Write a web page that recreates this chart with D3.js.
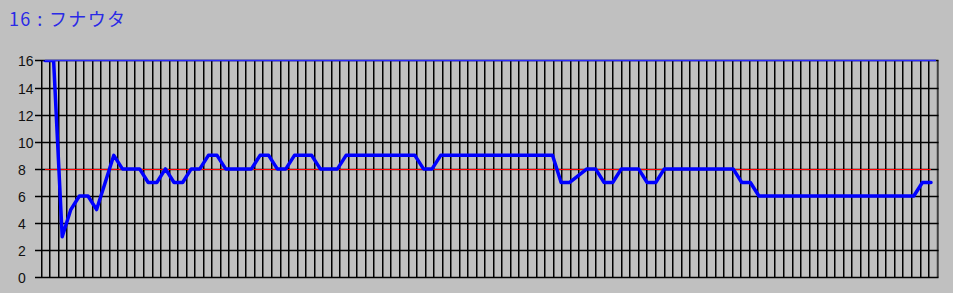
<!DOCTYPE html>
<html><head><meta charset="utf-8">
<script src="https://cdn.jsdelivr.net/npm/d3@7"></script>
<style>html,body{margin:0;padding:0;background:#c0c0c0;overflow:hidden}</style>
</head><body><svg id="c" width="953" height="293"></svg>
<script>
// ---- data ----
const title = "16 : フナウタ";
const yTicks = [0, 2, 4, 6, 8, 10, 12, 14, 16];
const yMax = 16;
const gridCells = 105;
const refLevel = 8;
const values = [
  16, 16, 3, 5, 6, 6, 5, 7, 9, 8,
  8, 8, 7, 7, 8, 7, 7, 8, 8, 9,
  9, 8, 8, 8, 8, 9, 9, 8, 8, 9,
  9, 9, 8, 8, 8, 9, 9, 9, 9, 9,
  9, 9, 9, 9, 8, 8, 9, 9, 9, 9,
  9, 9, 9, 9, 9, 9, 9, 9, 9, 9,
  7, 7, 7.5, 8, 8, 7, 7, 8, 8, 8,
  7, 7, 8, 8, 8, 8, 8, 8, 8, 8,
  8, 7, 7, 6, 6, 6, 6, 6, 6, 6,
  6, 6, 6, 6, 6, 6, 6, 6, 6, 6,
  6, 6, 7, 7
];

// ---- chart ----
const svg = d3.select("#c");
const y = d3.scaleLinear().domain([0, yMax]).range([277.4, 60.4]);
const gx = d3.scaleLinear().domain([0, gridCells]).range([40.6, 936.6]);
const x = d3.scaleLinear().domain([0, values.length - 1]).range([45, 931]);
const ry = v => Math.round(y(v)) + 0.5;

svg.append("defs").append("clipPath").attr("id", "plotclip")
  .append("rect")
  .attr("x", 30).attr("y", ry(yMax))
  .attr("width", 920).attr("height", ry(0) - ry(yMax) + 5);

// title
svg.append("text")
  .attr("x", 9).attr("y", 26)
  .attr("font-family", "'Noto Sans CJK JP', 'Liberation Sans', sans-serif")
  .attr("font-size", 18)
  .attr("fill", "#2a2ae6")
  .attr("textLength", 116)
  .attr("lengthAdjust", "spacing")
  .style("white-space", "pre")
  .text(title);

// vertical grid lines
svg.append("g").selectAll("line").data(d3.range(gridCells + 1)).join("line")
  .attr("x1", k => Math.round(gx(k)) + 0.75).attr("x2", k => Math.round(gx(k)) + 0.75)
  .attr("y1", ry(yMax)).attr("y2", ry(0))
  .attr("stroke", k => k === gridCells ? "#404040" : "#000")
  .attr("stroke-width", k => k === gridCells ? 2 : 1.5);

// horizontal grid lines + tick labels
svg.append("g").selectAll("line").data(yTicks).join("line")
  .attr("x1", 35).attr("x2", Math.round(gx(gridCells)) + 1.5)
  .attr("y1", d => ry(d)).attr("y2", d => ry(d))
  .attr("stroke", "#000").attr("stroke-width", 1.3);

svg.append("g").selectAll("text").data(yTicks).join("text")
  .attr("x", 18).attr("y", d => ry(d) + 5)
  .attr("font-family", "'Liberation Sans', Arial, sans-serif")
  .attr("font-size", 14)
  .attr("fill", "#111")
  .text(d => d);

// reference line
svg.append("line")
  .attr("x1", x(0)).attr("x2", x(values.length - 1))
  .attr("y1", ry(refLevel)).attr("y2", ry(refLevel))
  .attr("stroke", "#ff0000").attr("stroke-width", 1);

// data line (clipped to plot area)
const line = d3.line().x((d, i) => x(i)).y(d => y(d));
svg.append("path")
  .datum(values)
  .attr("clip-path", "url(#plotclip)")
  .attr("d", line)
  .attr("fill", "none")
  .attr("stroke", "#0000ff")
  .attr("stroke-width", 3.5)
  .attr("stroke-linejoin", "round")
  .attr("stroke-linecap", "round");

// top border in blue
svg.append("line")
  .attr("x1", x(0)).attr("x2", Math.round(gx(gridCells)) - 1)
  .attr("y1", ry(yMax)).attr("y2", ry(yMax))
  .attr("stroke", "#2a2aff").attr("stroke-width", 1.3);
</script>
</body></html>
